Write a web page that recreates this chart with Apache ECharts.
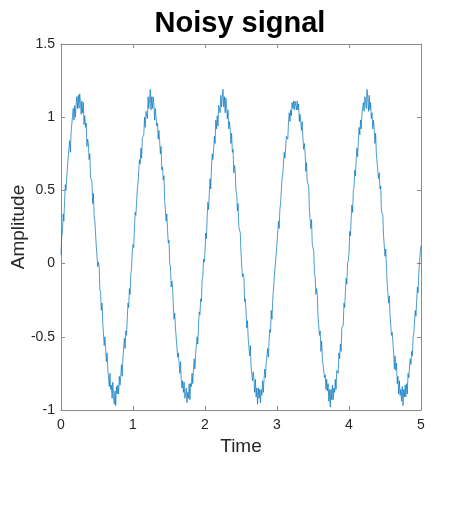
<!DOCTYPE html>
<html>
<head>
<meta charset="utf-8">
<script src="https://cdn.jsdelivr.net/npm/echarts@6/dist/echarts.min.js"></script>
<style>html,body{margin:0;padding:0;background:#fff;}#c{width:465px;height:511px;}</style>
</head>
<body>
<div id="c"></div>
<script>
const titleText = 'Noisy signal';
const xName = 'Time';
const yName = 'Amplitude';
const xTicks = [0, 1, 2, 3, 4, 5];
const yTicks = [-1, -0.5, 0, 0.5, 1, 1.5];
const sampleStep = 0.01;

// Amplitude samples, one array per second of Time
const cycle1 = [0.06,0.19,0.21,0.34,0.29,0.43,0.54,0.50,0.59,0.59,0.73,0.73,0.84,0.76,0.90,0.91,0.90,1.06,0.98,1.08,1.00,1.09,1.14,1.06,1.15,1.06,1.16,1.10,1.02,1.11,1.03,1.10,0.95,1.01,0.93,0.96,0.80,0.85,0.82,0.71,0.75,0.59,0.59,0.56,0.41,0.48,0.33,0.29,0.28,0.12,0.12,-0.02,0.01,-0.02,-0.18,-0.20,-0.32,-0.27,-0.40,-0.41,-0.56,-0.50,-0.58,-0.67,-0.61,-0.72,-0.71,-0.84,-0.75,-0.86,-0.83,-0.92,-0.81,-0.91,-0.96,-0.87,-0.97,-0.84,-0.89,-0.83,-0.89,-0.77,-0.83,-0.77,-0.69,-0.77,-0.65,-0.65,-0.51,-0.58,-0.46,-0.49,-0.38,-0.27,-0.30,-0.17,-0.21,-0.07,-0.04,0.09];
const cycle2 = [0.13,0.11,0.24,0.35,0.33,0.34,0.51,0.55,0.54,0.71,0.68,0.79,0.72,0.86,0.87,0.88,1.00,0.93,1.04,1.04,0.99,1.14,1.06,1.12,1.19,1.05,1.14,1.06,1.14,1.09,0.98,1.06,1.05,0.94,0.96,0.85,0.91,0.84,0.75,0.80,0.64,0.66,0.57,0.60,0.43,0.44,0.29,0.34,0.23,0.14,0.16,0.00,-0.02,-0.16,-0.12,-0.16,-0.29,-0.38,-0.34,-0.44,-0.43,-0.57,-0.64,-0.61,-0.62,-0.75,-0.67,-0.79,-0.85,-0.80,-0.88,-0.81,-0.92,-0.89,-0.85,-0.95,-0.88,-0.92,-0.82,-0.93,-0.82,-0.84,-0.75,-0.82,-0.72,-0.65,-0.72,-0.62,-0.61,-0.50,-0.55,-0.42,-0.33,-0.35,-0.24,-0.26,-0.11,-0.09,0.03,0.01];
const cycle3 = [0.08,0.21,0.17,0.32,0.42,0.37,0.48,0.58,0.51,0.66,0.75,0.71,0.78,0.87,0.82,0.98,0.92,1.01,0.94,1.08,1.06,1.03,1.15,1.07,1.14,1.19,1.07,1.14,1.03,1.13,1.07,0.99,1.05,0.92,0.97,0.92,0.82,0.89,0.76,0.78,0.62,0.67,0.63,0.50,0.48,0.36,0.41,0.25,0.25,0.21,0.07,0.08,-0.09,-0.07,-0.09,-0.26,-0.24,-0.33,-0.44,-0.39,-0.51,-0.50,-0.63,-0.56,-0.70,-0.69,-0.80,-0.74,-0.79,-0.88,-0.79,-0.91,-0.85,-0.96,-0.85,-0.92,-0.86,-0.95,-0.86,-0.90,-0.80,-0.88,-0.79,-0.72,-0.78,-0.68,-0.68,-0.58,-0.64,-0.52,-0.45,-0.47,-0.32,-0.38,-0.26,-0.18,-0.19,-0.04,-0.05,0.07];
const cycle4 = [0.14,0.13,0.29,0.24,0.37,0.41,0.41,0.58,0.61,0.60,0.76,0.72,0.73,0.87,0.88,0.85,0.97,1.03,0.97,1.05,1.01,1.10,1.06,1.11,1.05,1.11,1.12,1.05,1.11,1.05,1.09,0.97,1.02,1.03,0.91,0.97,0.86,0.78,0.82,0.76,0.63,0.69,0.56,0.56,0.53,0.37,0.36,0.24,0.30,0.13,0.12,0.09,-0.07,-0.09,-0.21,-0.17,-0.21,-0.36,-0.36,-0.49,-0.46,-0.60,-0.53,-0.65,-0.66,-0.66,-0.78,-0.76,-0.86,-0.79,-0.87,-0.82,-0.94,-0.86,-0.98,-0.86,-0.93,-0.83,-0.93,-0.85,-0.88,-0.79,-0.86,-0.73,-0.74,-0.75,-0.61,-0.65,-0.55,-0.60,-0.44,-0.45,-0.42,-0.27,-0.30,-0.19,-0.10,-0.14,0.00,0.02];
const cycle5 = [0.07,0.22,0.19,0.31,0.40,0.35,0.50,0.52,0.64,0.60,0.71,0.79,0.73,0.84,0.93,0.88,0.98,0.92,1.03,1.03,1.10,1.04,1.14,1.11,1.06,1.19,1.13,1.04,1.15,1.05,1.10,0.99,1.03,0.92,0.98,0.93,0.82,0.89,0.75,0.75,0.74,0.58,0.62,0.51,0.53,0.36,0.37,0.33,0.19,0.19,0.05,0.10,-0.02,-0.13,-0.12,-0.27,-0.22,-0.35,-0.34,-0.49,-0.47,-0.48,-0.61,-0.72,-0.63,-0.73,-0.68,-0.82,-0.77,-0.89,-0.80,-0.90,-0.86,-0.94,-0.84,-0.97,-0.86,-0.91,-0.83,-0.91,-0.82,-0.89,-0.75,-0.78,-0.78,-0.65,-0.69,-0.60,-0.63,-0.50,-0.48,-0.48,-0.32,-0.36,-0.25,-0.16,-0.20,-0.06,-0.05,0.08];
const lastSample = [0.12];

const amplitude = [].concat(cycle1, cycle2, cycle3, cycle4, cycle5, lastSample);
const points = amplitude.map((v, i) => [+(i * sampleStep).toFixed(2), v]);

const FONT = '"Liberation Sans", Arial, sans-serif';
const TXT = '#262626';
const AX = '#8a8a8a';

function xAx(pos, show) {
  return {
    type: 'value', position: pos, min: xTicks[0], max: xTicks[xTicks.length - 1], interval: 1,
    name: show ? xName : '', nameLocation: 'middle', nameGap: 27, nameMoveOverlap: false,
    nameTextStyle: { fontFamily: FONT, fontSize: 19, color: TXT },
    axisLine: { show: true, onZero: false, lineStyle: { color: AX, width: 1 } },
    axisTick: { show: true, inside: true, length: 4, lineStyle: { color: AX } },
    axisLabel: { show: show, margin: 8, fontFamily: FONT, fontSize: 14, color: TXT },
    splitLine: { show: false }
  };
}
function yAx(pos, show) {
  return {
    type: 'value', position: pos, min: yTicks[0], max: yTicks[yTicks.length - 1], interval: 0.5,
    name: show ? yName : '', nameLocation: 'middle', nameGap: 33, nameMoveOverlap: false,
    nameTextStyle: { fontFamily: FONT, fontSize: 19, color: TXT },
    axisLine: { show: true, onZero: false, lineStyle: { color: AX, width: 1 } },
    axisTick: { show: true, inside: true, length: 4, lineStyle: { color: AX } },
    axisLabel: { show: show, margin: 6, fontFamily: FONT, fontSize: 14, color: TXT },
    splitLine: { show: false }
  };
}

const chart = echarts.init(document.getElementById('c'), null, { renderer: 'canvas' });
chart.setOption({
  animation: false,
  backgroundColor: '#ffffff',
  title: {
    text: titleText, left: 235, top: 4, textAlign: 'center',
    textStyle: { fontFamily: FONT, fontSize: 29, fontWeight: 'bold', color: '#000' }
  },
  grid: { left: 61, right: 44, top: 44, bottom: 101, containLabel: false, outerBoundsMode: 'none' },
  xAxis: [xAx('bottom', true), xAx('top', false)],
  yAxis: [yAx('left', true), yAx('right', false)],
  series: [{
    type: 'line', xAxisIndex: 0, yAxisIndex: 0, data: points,
    showSymbol: false, symbol: 'none',
    lineStyle: { color: '#0072BD', width: 0.7 },
    clip: true
  }]
});
</script>
</body>
</html>
